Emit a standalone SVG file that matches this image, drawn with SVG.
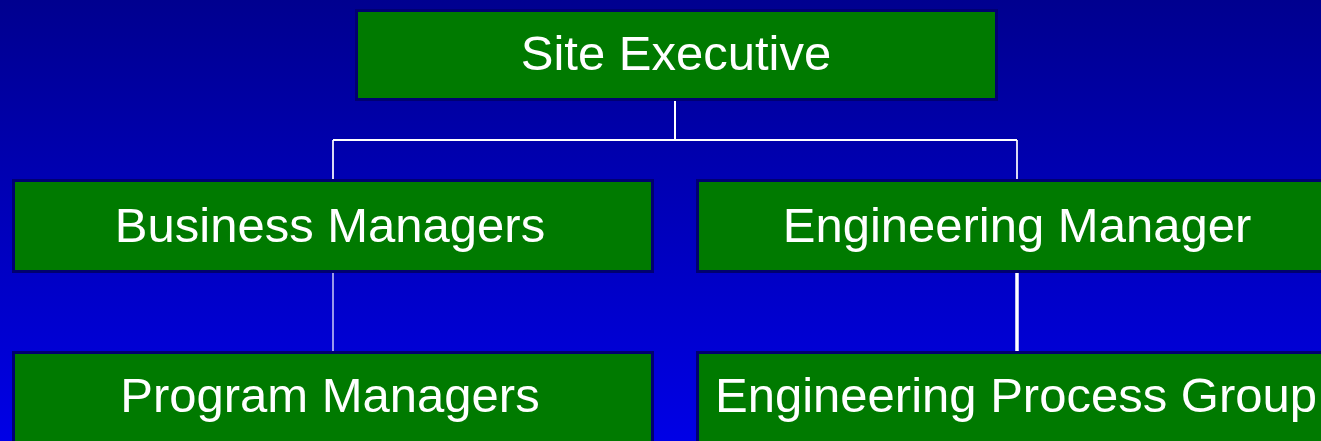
<svg xmlns="http://www.w3.org/2000/svg" width="1321" height="441" viewBox="0 0 1321 441">
  <defs>
    <linearGradient id="bg" x1="0" y1="0" x2="0" y2="1">
      <stop offset="0" stop-color="#00008F"/>
      <stop offset="1" stop-color="#0000E6"/>
    </linearGradient>
  </defs>
  <style>
    .box { fill: #007A00; stroke: #000070; stroke-width: 3; }
    .label { font-family: "Liberation Sans", Arial, sans-serif; font-size: 49px; fill: #FFFFFF; text-anchor: middle; }
    .link { stroke: #FFFFFF; fill: none; }
  </style>

  <rect x="0" y="0" width="1321" height="441" fill="url(#bg)"/>

  <!-- connectors -->
  <g id="connectors" class="link">
    <line x1="675" y1="101" x2="675" y2="140" stroke-width="2"/>
    <line x1="333" y1="140" x2="1017" y2="140" stroke-width="2"/>
    <line x1="333" y1="140" x2="333" y2="179" stroke-width="1.7"/>
    <line x1="1017" y1="140" x2="1017" y2="179" stroke-width="1.7"/>
    <line x1="333" y1="273" x2="333" y2="351" stroke-width="1.2"/>
    <line x1="1017" y1="273" x2="1017" y2="351" stroke-width="3.5"/>
  </g>

  <g id="site-executive">
    <rect class="box" x="356.5" y="10.5" width="640" height="89"/>
    <text class="label" x="676" y="70">Site Executive</text>
  </g>

  <g id="business-managers">
    <rect class="box" x="13.5" y="180.5" width="639" height="91"/>
    <text class="label" x="330" y="242">Business Managers</text>
  </g>

  <g id="engineering-manager">
    <rect class="box" x="697.5" y="180.5" width="640" height="91"/>
    <text class="label" x="1017" y="242">Engineering Manager</text>
  </g>

  <g id="program-managers">
    <rect class="box" x="13.5" y="352.5" width="639" height="100"/>
    <text class="label" x="330" y="412">Program Managers</text>
  </g>

  <g id="engineering-process-group">
    <rect class="box" x="697.5" y="352.5" width="640" height="100"/>
    <text class="label" x="1016" y="412">Engineering Process Group</text>
  </g>
</svg>
